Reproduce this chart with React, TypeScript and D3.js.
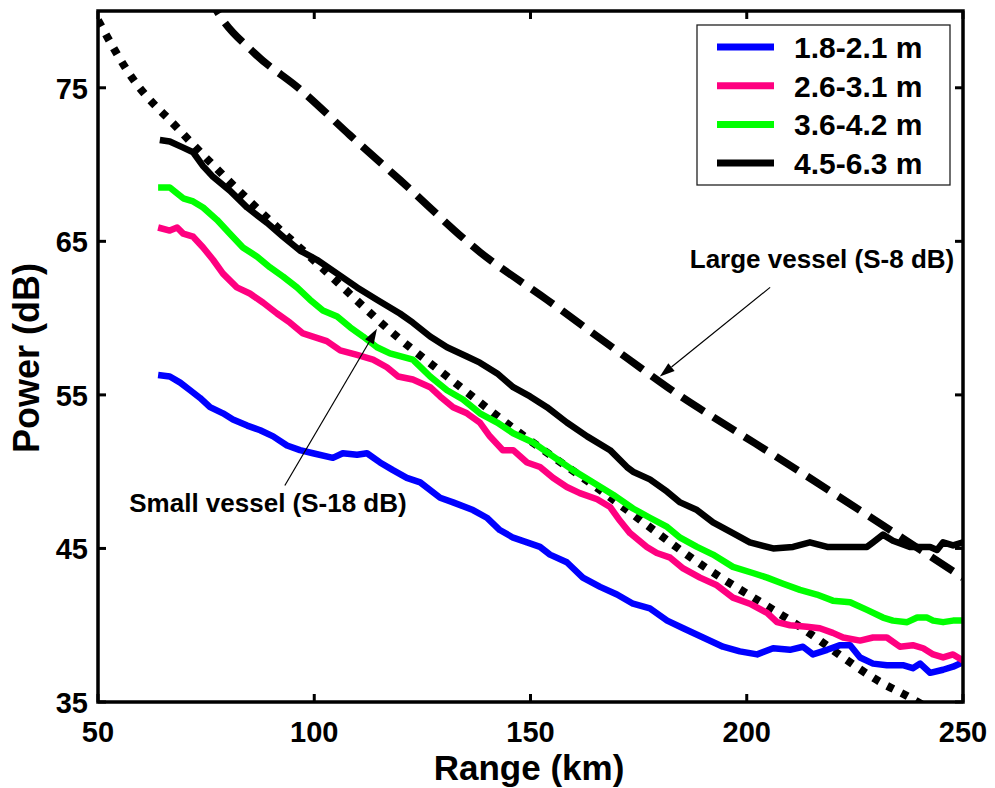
import React from "react";
import * as d3 from "d3";

// ---- Data ----
const seriesNames = ["1.8-2.1 m", "2.6-3.1 m", "3.6-4.2 m", "4.5-6.3 m"];
const seriesColors = ["#0000ff", "#ff0080", "#00ff00", "#000000"];

const blueX = [63.9,66.6,69.0,71.3,73.6,75.9,78.9,81.2,84.5,87.5,90.5,93.7,96.7,99.7,104.3,106.6,109.9,112.2,115.2,118.2,121.4,124.5,129.1,132.1,136.7,139.9,142.9,146.0,149.2,152.2,154.5,158.4,162.1,166.1,170.0,173.7,177.6,181.6,185.3,189.9,194.5,198.4,202.4,206.1,210.0,213.0,215.3,218.6,221.6,223.9,226.2,229.2,232.4,236.1,238.4,240.1,242.4,245.4,247.7,250];
const blueY = [56.3,56.2,55.8,55.3,54.8,54.2,53.8,53.4,53.0,52.7,52.3,51.7,51.4,51.2,50.9,51.2,51.1,51.2,50.6,50.1,49.6,49.3,48.3,48.0,47.5,47.0,46.2,45.7,45.4,45.1,44.6,44.1,43.1,42.5,42.0,41.4,41.1,40.3,39.8,39.2,38.6,38.3,38.1,38.5,38.4,38.6,38.1,38.4,38.7,38.7,37.9,37.5,37.4,37.4,37.2,37.5,36.9,37.1,37.3,37.6];

const pinkX = [63.9,66.6,68.3,69.7,72.0,74.3,76.6,78.9,82.1,85.1,88.2,91.4,94.4,97.4,99.7,102.9,106.0,109.9,113.6,116.8,119.4,122.8,126.8,129.1,132.1,135.3,138.3,140.6,143.6,146.0,149.2,152.2,155.2,158.4,161.4,165.4,168.4,170.7,173.0,176.9,179.2,182.3,185.3,189.2,193.1,196.8,200.7,204.7,207.0,210.0,213.9,216.9,219.9,222.3,226.2,229.2,232.4,235.4,238.4,240.8,243.1,245.4,247.7,250];
const pinkY = [65.9,65.7,65.9,65.5,65.3,64.6,63.8,62.9,62.0,61.6,61.0,60.3,59.7,59.0,58.8,58.5,57.9,57.6,57.3,56.8,56.2,56.0,55.5,54.9,54.2,53.8,53.2,52.3,51.4,51.4,50.6,50.3,49.6,49.0,48.6,48.2,47.7,46.8,46.0,45.1,44.7,44.4,43.7,43.1,42.6,41.8,41.4,40.8,40.2,40.0,39.9,39.8,39.5,39.2,39.0,39.2,39.2,38.6,38.7,38.5,38.1,37.9,38.1,37.7];

const greenX = [63.9,66.6,69.7,72.0,74.3,77.5,80.5,83.5,86.8,89.8,92.8,96.0,99.0,102.0,105.3,108.3,111.3,114.5,117.5,122.8,126.8,130.7,134.4,138.3,142.3,146.0,150.6,155.2,159.8,164.5,169.1,173.7,177.6,181.6,184.6,188.5,192.2,196.8,201.4,204.7,208.4,212.3,216.2,219.9,223.9,227.8,231.5,233.8,237.1,239.4,241.7,243.1,245.4,247.7,250];
const greenY = [68.5,68.5,67.8,67.6,67.2,66.4,65.5,64.6,64.0,63.3,62.7,62.0,61.2,60.5,60.1,59.4,58.8,58.1,57.7,57.3,56.2,55.3,54.7,53.8,53.2,52.5,51.9,51.0,50.1,49.3,48.5,47.6,47.0,46.4,45.7,45.1,44.6,43.8,43.4,43.1,42.7,42.3,42.0,41.6,41.5,41.0,40.5,40.3,40.2,40.5,40.5,40.3,40.2,40.3,40.3];

const blackX = [64.3,66.6,69.7,72.0,74.3,76.6,80.5,84.5,89.1,92.8,96.7,100.6,105.3,109.9,114.5,119.8,122.8,126.8,130.7,135.3,138.3,142.3,146.0,149.9,153.8,158.4,163.1,168.4,172.3,173.7,177.6,181.6,184.6,188.5,192.2,196.8,200.7,206.1,210.7,214.6,218.6,223.2,227.8,229.2,231.5,233.8,237.7,242.4,244.0,245.4,247.7,250];
const blackY = [71.6,71.5,71.1,70.8,69.9,69.2,68.3,67.2,66.2,65.3,64.4,63.8,62.9,62.0,61.2,60.3,59.7,58.8,58.1,57.5,57.1,56.4,55.5,54.9,54.2,53.2,52.3,51.4,50.3,50.0,49.5,48.7,48.0,47.5,46.7,46.0,45.4,45.0,45.1,45.4,45.1,45.1,45.1,45.4,45.9,45.5,45.1,45.1,44.9,45.4,45.2,45.4];

// Large vessel (S-8 dB) reference curve (dashed)
const largeX = [75.0,77.5,86.0,96.7,108.3,119.8,138.3,153.8,172.3,185.3,195.4,212.3,231.5,250];
const largeY = [81.3,80.0,77.3,74.9,71.9,69.0,64.3,61.2,57.4,54.8,53.0,50.0,46.5,43.1];

// Small vessel (S-18 dB) reference curve (dotted)
const smallX = [50,58.0,68.3,85.1,101.3,119.1,130.7,147.6,166.1,189.2,212.3,231.5,237.7,242.0];
const smallY = [79.4,75.6,72.4,67.6,63.4,58.8,56.2,52.5,48.8,44.0,39.9,36.2,35.3,34.6];

const xTicks = [50, 100, 150, 200, 250];
const yTicks = [35, 45, 55, 65, 75];
const xLabel = "Range (km)";
const yLabel = "Power (dB)";

const largeLabel = "Large vessel (S-8 dB)";
const largeLabelPos = [217.4, 63.25];
const largeArrow = [[205.4, 62.0], [179.9, 56.2]];
const smallLabel = "Small vessel (S-18 dB)";
const smallLabelPos = [89.3, 47.4];
const smallArrow = [[93.2, 49.1], [114.5, 59.3]];

const W = 995, H = 788;
const FONT = "'Liberation Sans', Arial, Helvetica, sans-serif";

function zip(xs: number[], ys: number[]) {
  return xs.map((x, i) => [x, ys[i]] as [number, number]);
}

function Arrow({ from, to, x, y }: any) {
  const x1 = x(from[0]), y1 = y(from[1]);
  const x2 = x(to[0]), y2 = y(to[1]);
  const ang = Math.atan2(y2 - y1, x2 - x1);
  const L = 15, Wd = 5;
  const bx = x2 - L * Math.cos(ang), by = y2 - L * Math.sin(ang);
  const px = -Math.sin(ang) * Wd, py = Math.cos(ang) * Wd;
  return (
    <g>
      <line x1={x1} y1={y1} x2={bx} y2={by} stroke="#000" strokeWidth={1.2} />
      <path d={`M${x2},${y2}L${bx + px},${by + py}L${bx - px},${by - py}Z`} fill="#000" />
    </g>
  );
}

export default function App() {
  const left = 98, right = 963, top = 11, bottom = 702;
  const x = d3.scaleLinear().domain([50, 250]).range([left, right]);
  const y = d3.scaleLinear().domain([35, 80]).range([bottom, top]);

  const line = d3.line<[number, number]>().x(d => x(d[0])).y(d => y(d[1]));
  const smooth = d3.line<[number, number]>().x(d => x(d[0])).y(d => y(d[1])).curve(d3.curveMonotoneX);

  const series = [zip(blueX, blueY), zip(pinkX, pinkY), zip(greenX, greenY), zip(blackX, blackY)];
  const tickLen = 8;

  const legX = 697, legY = 25, legW = 253, legH = 160;
  const rowH = 38.7;

  return (
    <svg width={W} height={H} style={{ position: "absolute", left: 0, top: 0, background: "#fff" }} fontFamily={FONT}>
      <rect x={0} y={0} width={W} height={H} fill="#fff" />
      <defs>
        <clipPath id="plotclip">
          <rect x={left} y={top} width={right - left} height={bottom - top} />
        </clipPath>
      </defs>

      <g clipPath="url(#plotclip)">
        <path d={smooth(zip(largeX, largeY)) || ""} fill="none" stroke="#000" strokeWidth={7.5} strokeDasharray="26 11" />
        <path d={smooth(zip(smallX, smallY)) || ""} fill="none" stroke="#000" strokeWidth={8} strokeDasharray="7 9" />
        {series.map((s, i) => (
          <path key={i} d={line(s) || ""} fill="none" stroke={seriesColors[i]} strokeWidth={6.5} strokeLinejoin="round" />
        ))}
      </g>

      {/* annotations */}
      <Arrow from={largeArrow[0]} to={largeArrow[1]} x={x} y={y} />
      <Arrow from={smallArrow[0]} to={smallArrow[1]} x={x} y={y} />
      <text x={x(largeLabelPos[0])} y={y(largeLabelPos[1])} textAnchor="middle" fontSize={26} fontWeight="bold">{largeLabel}</text>
      <text x={x(smallLabelPos[0])} y={y(smallLabelPos[1])} textAnchor="middle" fontSize={26} fontWeight="bold">{smallLabel}</text>

      {/* ticks (inward, mirrored) */}
      {xTicks.map(t => (
        <g key={"xt" + t}>
          <line x1={x(t)} x2={x(t)} y1={bottom} y2={bottom - tickLen} stroke="#000" strokeWidth={3} />
          <line x1={x(t)} x2={x(t)} y1={top} y2={top + tickLen} stroke="#000" strokeWidth={3} />
          <text x={x(t)} y={bottom + 40} textAnchor="middle" fontSize={29} fontWeight="bold">{t}</text>
        </g>
      ))}
      {yTicks.map(t => (
        <g key={"yt" + t}>
          <line x1={left} x2={left + tickLen} y1={y(t)} y2={y(t)} stroke="#000" strokeWidth={3} />
          <line x1={right} x2={right - tickLen} y1={y(t)} y2={y(t)} stroke="#000" strokeWidth={3} />
          <text x={left - 10} y={y(t) + 11} textAnchor="end" fontSize={29} fontWeight="bold">{t}</text>
        </g>
      ))}

      {/* axes box */}
      <rect x={left} y={top} width={right - left} height={bottom - top} fill="none" stroke="#000" strokeWidth={3.5} />

      {/* legend */}
      <rect x={legX} y={legY} width={legW} height={legH} fill="#fff" stroke="#222" strokeWidth={1.3} />
      {seriesNames.map((n, i) => {
        const cy = legY + 22 + i * rowH;
        return (
          <g key={n}>
            <line x1={legX + 20} x2={legX + 77} y1={cy} y2={cy} stroke={seriesColors[i]} strokeWidth={7} />
            <text x={legX + 97} y={cy + 11} fontSize={30} fontWeight="bold">{n}</text>
          </g>
        );
      })}

      {/* axis labels */}
      <text x={529} y={780} textAnchor="middle" fontSize={35} fontWeight="bold">{xLabel}</text>
      <text transform={`translate(39,358) rotate(-90)`} textAnchor="middle" fontSize={36} fontWeight="bold">{yLabel}</text>
    </svg>
  );
}
